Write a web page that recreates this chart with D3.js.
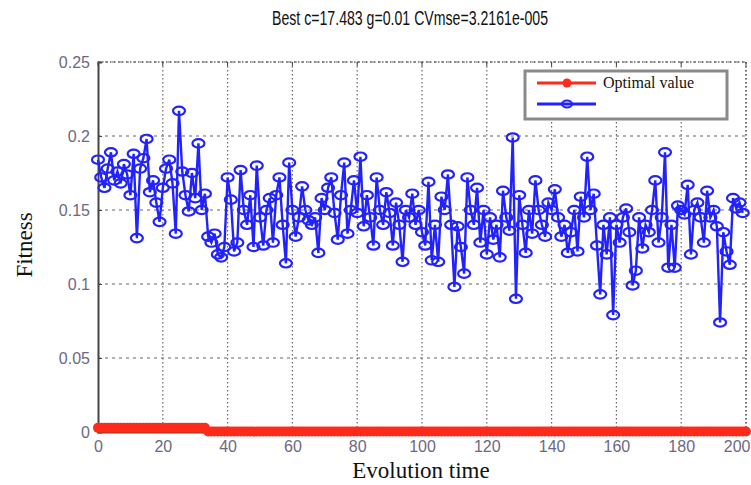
<!DOCTYPE html>
<html><head><meta charset="utf-8">
<script src="https://cdn.jsdelivr.net/npm/d3@7"></script>
<style>
html,body{margin:0;padding:0;background:#fff;}
svg{display:block;}
</style></head>
<body>
<svg id="chart" width="751" height="485"></svg>
<script>
const titleText = "Best c=17.483 g=0.01 CVmse=3.2161e-005";
const xLabel = "Evolution time";
const yLabel = "Fitness";
const legendLabels = ["Optimal value", ""];
const xTicks = [0,20,40,60,80,100,120,140,160,180,200];
const yTicks = [0,0.05,0.1,0.15,0.2,0.25];
const yTickLabels = ["0","0.05","0.1","0.15","0.2","0.25"];

// blue series, generations 0..199
const blueValues = [
0.184,0.172,0.165,0.178,0.189,0.170,0.176,0.168,0.181,0.174,
0.160,0.188,0.131,0.178,0.185,0.198,0.162,0.170,0.155,0.142,
0.165,0.178,0.184,0.168,0.134,0.217,0.176,0.160,0.149,0.175,
0.158,0.195,0.150,0.161,0.132,0.128,0.134,0.120,0.118,0.125,
0.172,0.157,0.122,0.128,0.177,0.150,0.140,0.160,0.125,0.180,
0.145,0.126,0.150,0.158,0.128,0.160,0.172,0.140,0.114,0.182,
0.150,0.132,0.145,0.166,0.150,0.143,0.140,0.145,0.121,0.158,
0.150,0.165,0.172,0.148,0.130,0.160,0.182,0.134,0.150,0.170,
0.148,0.186,0.139,0.160,0.145,0.126,0.172,0.150,0.140,0.162,
0.148,0.126,0.155,0.140,0.115,0.150,0.145,0.161,0.140,0.150,
0.135,0.126,0.169,0.116,0.140,0.115,0.159,0.150,0.174,0.140,
0.098,0.139,0.125,0.107,0.172,0.150,0.140,0.165,0.128,0.150,
0.120,0.145,0.130,0.140,0.118,0.163,0.145,0.136,0.199,0.090,
0.160,0.140,0.121,0.150,0.134,0.170,0.150,0.140,0.132,0.155,
0.150,0.164,0.145,0.132,0.140,0.121,0.135,0.150,0.122,0.159,
0.145,0.186,0.150,0.161,0.126,0.093,0.140,0.120,0.145,0.079,
0.140,0.128,0.145,0.151,0.135,0.099,0.109,0.145,0.124,0.140,
0.135,0.150,0.170,0.128,0.145,0.189,0.111,0.140,0.111,0.153,
0.150,0.147,0.167,0.120,0.150,0.155,0.145,0.128,0.163,0.145,
0.150,0.139,0.074,0.135,0.122,0.113,0.158,0.151,0.155,0.148
];

// red series (optimal value), generations 0..200 (201 values)
const redValues = [
0.0028,0.0028,0.0028,0.0028,0.0028,0.0028,0.0028,0.0028,0.0028,0.0028,
0.0028,0.0028,0.0028,0.0028,0.0028,0.0028,0.0028,0.0028,0.0028,0.0028,
0.0028,0.0028,0.0028,0.0028,0.0028,0.0028,0.0028,0.0028,0.0028,0.0028,
0.0028,0.0028,0.0028,0.0028,0.0003,0.0003,0.0003,0.0003,0.0003,0.0003,
0.0003,0.0003,0.0003,0.0003,0.0003,0.0003,0.0003,0.0003,0.0003,0.0003,
0.0003,0.0003,0.0003,0.0003,0.0003,0.0003,0.0003,0.0003,0.0003,0.0003,
0.0003,0.0003,0.0003,0.0003,0.0003,0.0003,0.0003,0.0003,0.0003,0.0003,
0.0003,0.0003,0.0003,0.0003,0.0003,0.0003,0.0003,0.0003,0.0003,0.0003,
0.0003,0.0003,0.0003,0.0003,0.0003,0.0003,0.0003,0.0003,0.0003,0.0003,
0.0003,0.0003,0.0003,0.0003,0.0003,0.0003,0.0003,0.0003,0.0003,0.0003,
0.0003,0.0003,0.0003,0.0003,0.0003,0.0003,0.0003,0.0003,0.0003,0.0003,
0.0003,0.0003,0.0003,0.0003,0.0003,0.0003,0.0003,0.0003,0.0003,0.0003,
0.0003,0.0003,0.0003,0.0003,0.0003,0.0003,0.0003,0.0003,0.0003,0.0003,
0.0003,0.0003,0.0003,0.0003,0.0003,0.0003,0.0003,0.0003,0.0003,0.0003,
0.0003,0.0003,0.0003,0.0003,0.0003,0.0003,0.0003,0.0003,0.0003,0.0003,
0.0003,0.0003,0.0003,0.0003,0.0003,0.0003,0.0003,0.0003,0.0003,0.0003,
0.0003,0.0003,0.0003,0.0003,0.0003,0.0003,0.0003,0.0003,0.0003,0.0003,
0.0003,0.0003,0.0003,0.0003,0.0003,0.0003,0.0003,0.0003,0.0003,0.0003,
0.0003,0.0003,0.0003,0.0003,0.0003,0.0003,0.0003,0.0003,0.0003,0.0003,
0.0003,0.0003,0.0003,0.0003,0.0003,0.0003,0.0003,0.0003,0.0003,0.0003,
0.0003
];

const svg = d3.select("#chart");
const L = 98, R = 746, T = 62, B = 432;
const x = d3.scaleLinear().domain([0,200]).range([L,R]);
const y = d3.scaleLinear().domain([0,0.25]).range([B,T]);

const blue = blueValues.map((v,i)=>({x:i,y:v}));
const red = redValues.map((v,i)=>({x:i,y:v}));

// grid
const grid = svg.append("g");
grid.selectAll("line.vg").data(xTicks.slice(1)).join("line")
  .attr("x1",d=>x(d)).attr("x2",d=>x(d)).attr("y1",T).attr("y2",B)
  .attr("stroke","#666").attr("stroke-width",1.2).attr("stroke-dasharray","1.5,2.5");
grid.selectAll("line.hg").data(yTicks.slice(1)).join("line")
  .attr("x1",L).attr("x2",R).attr("y1",d=>y(d)).attr("y2",d=>y(d))
  .attr("stroke","#666").attr("stroke-width",1.2).attr("stroke-dasharray","3,4");

// axes
const gx = svg.append("g").attr("transform",`translate(0,${B})`)
  .call(d3.axisBottom(x).tickValues(xTicks).tickSize(-4).tickPadding(9).tickFormat(d3.format("d")));
const gy = svg.append("g").attr("transform",`translate(${L},0)`)
  .call(d3.axisLeft(y).tickValues(yTicks).tickSize(-4).tickPadding(8).tickFormat((d,i)=>yTickLabels[i]));
[gx,gy].forEach(g=>{
  g.select(".domain").attr("stroke","#444").attr("stroke-width",2);
  g.selectAll(".tick line").attr("stroke","#444");
  g.selectAll("text").attr("fill","#6e6882").attr("font-family","Liberation Sans, Arial, sans-serif").attr("font-size",16);
});
gy.selectAll(".tick text").attr("dy","0.35em");
// keep the last x label inside the window
gx.selectAll(".tick text").filter(d=>d===200).attr("text-anchor","end").attr("x",4);

// top & right dotted border
svg.append("line").attr("x1",L).attr("x2",R).attr("y1",T).attr("y2",T)
  .attr("stroke","#666").attr("stroke-width",1.5).attr("stroke-dasharray","1.5,2.5");
svg.append("line").attr("x1",R).attr("x2",R).attr("y1",T).attr("y2",B)
  .attr("stroke","#666").attr("stroke-width",1.5).attr("stroke-dasharray","1.5,2.5");
// top ticks
svg.append("g").selectAll("line").data(xTicks).join("line")
  .attr("x1",d=>x(d)).attr("x2",d=>x(d)).attr("y1",T).attr("y2",T+4).attr("stroke","#444");

const line = d3.line().x(d=>x(d.x)).y(d=>y(d.y));
const blueColor = "#2222ff", redColor = "#ff2a1a";

// blue series
svg.append("path").datum(blue).attr("d",line).attr("fill","none")
  .attr("stroke",blueColor).attr("stroke-width",2.4);
svg.append("g").selectAll("ellipse").data(blue).join("ellipse")
  .attr("cx",d=>x(d.x)).attr("cy",d=>y(d.y)).attr("rx",6).attr("ry",4.2)
  .attr("fill","none").attr("stroke",blueColor).attr("stroke-width",2.2);

// red series
svg.append("path").datum(red).attr("d",line).attr("fill","none")
  .attr("stroke",redColor).attr("stroke-width",4);
svg.append("g").selectAll("circle").data(red).join("circle")
  .attr("cx",d=>x(d.x)).attr("cy",d=>y(d.y)).attr("r",5)
  .attr("fill",redColor);

// title
svg.append("text").attr("x",410).attr("y",25).attr("text-anchor","middle")
  .attr("font-family","Liberation Sans Narrow, Arial Narrow, sans-serif")
  .attr("textLength",276).attr("lengthAdjust","spacingAndGlyphs")
  .attr("font-size",20).attr("fill","#111").text(titleText);

// axis labels
svg.append("text").attr("x",421).attr("y",478).attr("text-anchor","middle")
  .attr("font-family","Liberation Serif, Times New Roman, serif").attr("font-size",23).attr("fill","#111").text(xLabel);
svg.append("text").attr("transform","translate(32,245) rotate(-90)").attr("text-anchor","middle")
  .attr("font-family","Liberation Serif, Times New Roman, serif").attr("font-size",23).attr("fill","#111").text(yLabel);

// legend
const lg = svg.append("g");
lg.append("rect").attr("x",525).attr("y",71).attr("width",202).attr("height",48)
  .attr("fill","#fff").attr("stroke","#8a8a8a").attr("stroke-width",3);
lg.append("line").attr("x1",537).attr("x2",596).attr("y1",83).attr("y2",83).attr("stroke",redColor).attr("stroke-width",3);
lg.append("circle").attr("cx",567).attr("cy",83).attr("r",4.5).attr("fill",redColor);
lg.append("text").attr("x",603).attr("y",88).attr("font-family","Liberation Serif, Times New Roman, serif")
  .attr("font-size",16).attr("fill","#111").text(legendLabels[0]);
lg.append("line").attr("x1",537).attr("x2",596).attr("y1",104).attr("y2",104).attr("stroke",blueColor).attr("stroke-width",3);
lg.append("ellipse").attr("cx",567).attr("cy",104).attr("rx",5).attr("ry",3.5).attr("fill","none").attr("stroke",blueColor).attr("stroke-width",2);
</script>
</body></html>
